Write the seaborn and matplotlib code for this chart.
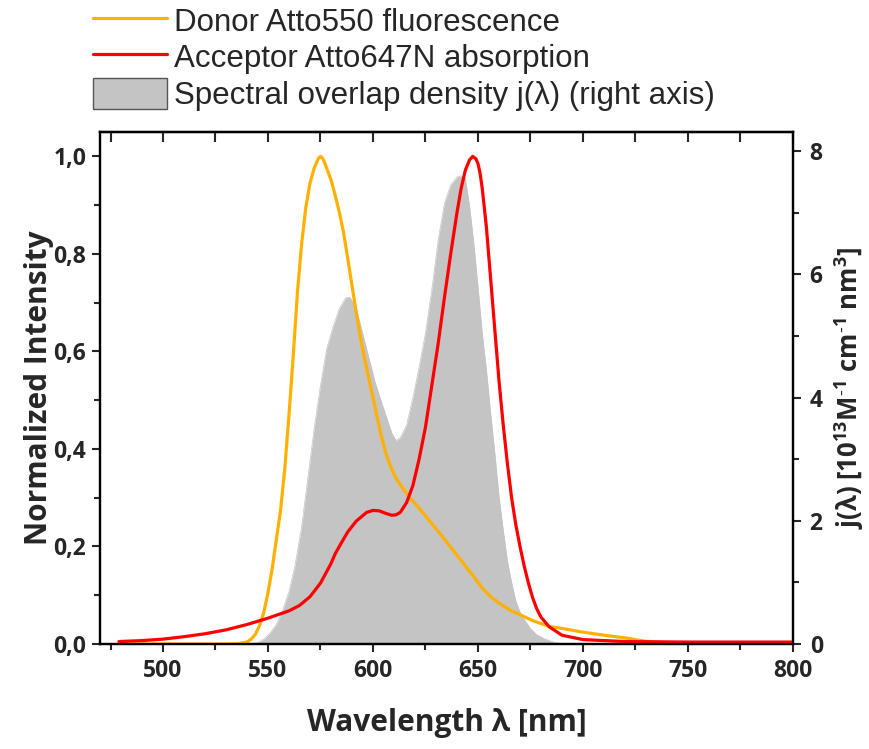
import numpy as np
import pandas as pd
import matplotlib
matplotlib.use("Agg")
import matplotlib.pyplot as plt
from matplotlib.ticker import MultipleLocator, FuncFormatter
from matplotlib.lines import Line2D
from matplotlib.patches import Patch
import seaborn as sns

# ---------------- data ----------------
donor_nm = [480, 520, 530, 536, 540, 542, 544, 546, 548, 550, 552, 554, 556, 558, 560, 562,
            564, 566, 568, 570, 572, 574, 575, 576, 577, 578, 580, 582, 584, 586, 588, 590,
            592, 594, 596, 598, 600, 602, 604, 606, 608, 610, 612, 614, 617, 620, 624, 628,
            632, 636, 640, 644, 648, 652, 656, 660, 665, 670, 676, 684, 690, 699, 710, 721,
            729, 740, 760, 800]
donor_int = [0.0, 0.0, 0.0, 0.001, 0.004, 0.01, 0.02, 0.038, 0.065, 0.105, 0.155, 0.215,
             0.275, 0.36, 0.47, 0.59, 0.72, 0.82, 0.895, 0.945, 0.976, 0.996, 1.0, 0.996,
             0.987, 0.975, 0.952, 0.92, 0.885, 0.843, 0.79, 0.735, 0.68, 0.63, 0.585, 0.545,
             0.505, 0.465, 0.425, 0.393, 0.368, 0.348, 0.333, 0.32, 0.303, 0.288, 0.268,
             0.247, 0.226, 0.204, 0.182, 0.16, 0.138, 0.115, 0.097, 0.084, 0.07, 0.06,
             0.048, 0.036, 0.032, 0.025, 0.018, 0.012, 0.006, 0.002, 0.001, 0.0]

acceptor_nm = [479, 490, 500, 510, 520, 530, 540, 550, 560, 565, 570, 575, 580, 582, 585,
               588, 592, 597, 600, 603, 606, 609, 611, 613, 616, 619, 622, 625, 628, 631,
               634, 637, 640, 642, 644, 646, 647.5, 649, 650, 651, 652, 654, 656, 658, 660,
               662, 664, 666, 668, 670, 672, 674, 676, 678, 680, 684, 690, 700, 720, 750,
               800]
acceptor_abs = [0.005, 0.007, 0.01, 0.015, 0.021, 0.029, 0.04, 0.053, 0.068, 0.079, 0.097,
                0.125, 0.165, 0.185, 0.208, 0.23, 0.252, 0.27, 0.274, 0.273, 0.268, 0.264,
                0.265, 0.27, 0.29, 0.325, 0.38, 0.445, 0.53, 0.615, 0.71, 0.8, 0.885,
                0.935, 0.972, 0.993, 1.0, 0.995, 0.985, 0.965, 0.935, 0.855, 0.75, 0.645,
                0.54, 0.45, 0.37, 0.3, 0.245, 0.2, 0.16, 0.125, 0.095, 0.072, 0.055, 0.035,
                0.018, 0.009, 0.005, 0.004, 0.004]

overlap_nm = [540, 545, 548, 551, 554, 557, 560, 563, 566, 569, 572, 575, 578, 581, 584,
              587, 589, 592, 595, 598, 601, 604, 607, 609, 611, 613, 616, 619, 622, 625,
              628, 631, 634, 637, 640, 642, 644, 646, 648, 650, 652, 654, 656, 658, 660,
              662, 664, 666, 668, 670, 672, 675, 678, 682, 686, 690]
overlap_j = [0.0, 0.02, 0.08, 0.18, 0.32, 0.55, 0.85, 1.3, 1.9, 2.7, 3.5, 4.2, 4.8, 5.15,
             5.45, 5.62, 5.63, 5.45, 5.05, 4.65, 4.25, 3.93, 3.62, 3.42, 3.3, 3.35, 3.55,
             4.0, 4.5, 5.05, 5.75, 6.55, 7.15, 7.45, 7.58, 7.6, 7.55, 7.1, 6.5, 5.8, 5.05,
             4.45, 3.75, 3.1, 2.4, 1.85, 1.35, 1.0, 0.7, 0.52, 0.4, 0.25, 0.15, 0.08, 0.03,
             0.0]

labels = ["Donor Atto550 fluorescence",
          "Acceptor Atto647N absorption",
          "Spectral overlap density j(\u03bb) (right axis)"]
colors = ["#FFB000", "#FF0000", "#C4C4C4"]

donor_df = pd.DataFrame({"nm": donor_nm, "val": donor_int})
acc_df = pd.DataFrame({"nm": acceptor_nm, "val": acceptor_abs})
ov_df = pd.DataFrame({"nm": overlap_nm, "j": overlap_j})

# ---------------- style ----------------
sns.set_theme(style="white")
plt.rcParams["font.family"] = ["Open Sans", "DejaVu Sans"]
plt.rcParams["mathtext.fontset"] = "custom"
plt.rcParams["mathtext.rm"] = "Open Sans:bold"
plt.rcParams["mathtext.it"] = "Open Sans:bold"
plt.rcParams["mathtext.bf"] = "Open Sans:bold"

fig = plt.figure(figsize=(8.7, 7.49), dpi=100)
ax = fig.add_axes([100 / 870, 1 - 644 / 749, 693 / 870, 512 / 749])
ax2 = ax.twinx()

# overlap density (right axis), drawn behind
sns.lineplot(data=ov_df, x="nm", y="j", ax=ax2, color=colors[2], lw=0.5, legend=False)
ax2.fill_between(ov_df["nm"], 0, ov_df["j"], color=colors[2], lw=0)
ax.set_zorder(ax2.get_zorder() + 1)
ax.patch.set_visible(False)

sns.lineplot(data=donor_df, x="nm", y="val", ax=ax, color=colors[0], lw=2.3, legend=False)
sns.lineplot(data=acc_df, x="nm", y="val", ax=ax, color=colors[1], lw=2.3, legend=False)

ax.set_xlim(470, 800)
ax.set_ylim(0, 1.05)
ax2.set_ylim(0, 8.31)

ax.xaxis.set_major_locator(MultipleLocator(50))
ax.xaxis.set_minor_locator(MultipleLocator(25))
ax.yaxis.set_major_locator(MultipleLocator(0.2))
ax.yaxis.set_minor_locator(MultipleLocator(0.1))
ax.yaxis.set_major_formatter(FuncFormatter(lambda v, p: f"{v:.1f}".replace(".", ",")))
ax2.yaxis.set_major_locator(MultipleLocator(2))
ax2.yaxis.set_minor_locator(MultipleLocator(1))

for a in (ax, ax2):
    for s in a.spines.values():
        s.set_linewidth(1.6)
        s.set_color("black")

TS = 16.5
ax.tick_params(axis="x", which="major", direction="out", length=6, width=1.5,
               pad=5, labelsize=TS, bottom=True, top=False)
ax.tick_params(axis="x", which="minor", direction="out", length=4, width=1.5, bottom=True, top=False)
ax.tick_params(axis="y", which="major", direction="out", length=6, width=1.5, pad=4,
               labelsize=TS, left=True)
ax.tick_params(axis="y", which="minor", direction="out", length=4, width=1.5, left=True)
ax2.tick_params(axis="y", which="major", direction="out", length=6, width=1.5, pad=6,
                labelsize=TS, right=True)
ax2.tick_params(axis="y", which="minor", direction="out", length=4, width=1.5, right=True)
for lab in ax.get_xticklabels() + ax.get_yticklabels() + ax2.get_yticklabels():
    lab.set_fontweight("bold")

# top ticks inward via secondary axis
top = ax.secondary_xaxis("top")
top.xaxis.set_major_locator(MultipleLocator(50))
top.xaxis.set_minor_locator(MultipleLocator(25))
top.tick_params(which="both", direction="in", length=7, width=1.5, labeltop=False)
top.spines["top"].set_linewidth(1.6)

ax.set_xlabel("Wavelength \u03bb [nm]", fontsize=21.5, fontweight="bold")
ax.set_ylabel("Normalized Intensity", fontsize=21.5, fontweight="bold")
ax2.set_ylabel("j(\u03bb) [10$^{13}$M$^{\u20101}$ cm$^{\u20101}$ nm$^{3}$]", fontsize=18.5,
               fontweight="bold", rotation=90)
ax.xaxis.set_label_coords(0.5, -0.125)
ax.yaxis.set_label_coords(-0.066, 0.5)
ax2.yaxis.set_label_coords(1.056, 0.5)

handles = [Line2D([], [], color=colors[0], lw=2.3),
           Line2D([], [], color=colors[1], lw=2.3),
           Patch(facecolor=colors[2], edgecolor="#555555", lw=1.0)]
fig.legend(handles, labels, loc="upper left", bbox_to_anchor=(93 / 870, 1 - 5 / 749),
           frameon=False, borderpad=0, borderaxespad=0, handlelength=2.37,
           handleheight=1.12, handletextpad=0.22, labelspacing=0.12,
           prop={"family": "Liberation Sans", "size": 22.5})

fig.savefig("out.png", dpi=100)
